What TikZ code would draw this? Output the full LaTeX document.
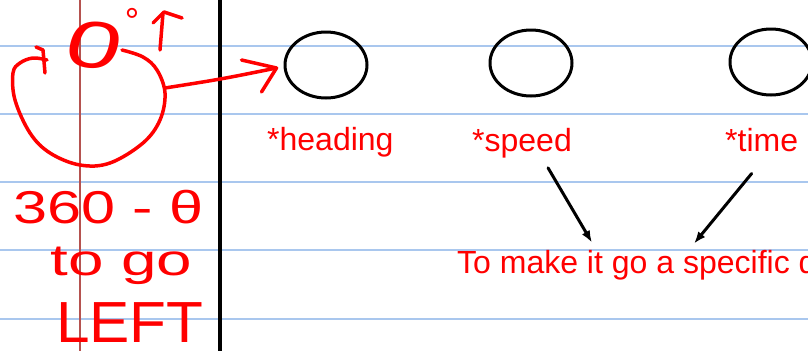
\documentclass[tikz,border=0pt]{standalone}
\usepackage{fontspec}
\setmainfont{Liberation Sans}
\usetikzlibrary{arrows.meta,calc,shapes.geometric}
\definecolor{ruled}{HTML}{A9C7EE}
\definecolor{marginred}{HTML}{B5524F}
\definecolor{ink}{HTML}{FF0000}
\tikzset{
  oval/.style={ellipse, draw=black, line width=3pt, minimum width=82pt, minimum height=66pt, inner sep=0pt},
  lab/.style={text=ink, inner sep=0pt, font=\fontsize{32}{32}\selectfont},
  hand/.style={text=ink, inner sep=0pt},
  handline/.style={draw=ink, line width=3.5pt, line cap=round, line join=round},
  blkarrow/.style={draw=black, line width=3pt, line cap=round, -{Latex[length=12pt,width=9pt]}}
}
\begin{document}
\begin{tikzpicture}[x=1pt,y=-1pt]
\useasboundingbox (0,0) rectangle (808,351);
\clip (0,0) rectangle (808,351);
\fill[white] (0,0) rectangle (808,351);
% ruled paper
\foreach \yy in {46,114,182,250,319} \draw[ruled, line width=1.5pt] (0,\yy) -- (808,\yy);
\draw[marginred, line width=1.2pt] (80,0) -- (80,351);
\draw[black, line width=3.5pt] (220,0) -- (220,351);

% ovals
\node[oval] (heading) at (326,65) {};
\node[oval] (speed) at (531,63) {};
\node[oval] (time) at (771,62) {};

% labels
\node[lab, anchor=base west] (headlab) at (267,150) {*heading};
\node[lab, anchor=base west] (speedlab) at (472,151) {*speed};
\node[lab, anchor=base west] (timelab) at (725,151) {*time};
\node[lab, anchor=base west] (goal) at (457,273) {To make it go a specific d};

% black arrows
\draw[blkarrow] ($(speedlab.south)+(26,10)$) -- ($(goal.north west)+(135,-7)$);
\draw[blkarrow] ($(timelab.south)+(-10,22)$) -- ($(goal.north west)+(237,-6)$);

% handwriting on the left
\node[hand, anchor=base, xscale=1.5, rotate=-10, transform shape, font=\fontsize{66}{66}\selectfont] (zero) at (89,68) {0};
\node[hand, font=\fontsize{36}{36}\selectfont] (deg) at (132,21) {°};
\draw[handline] (160,50) -- (163,13);
\draw[handline] (153,23) -- (164,12) -- (182,18);

\draw[handline] plot[smooth, tension=0.6] coordinates {(122,50) (143,57) (157,70) (165,93) (160,120) (143,143) (110,163) (80,165) (50,153) (30,133) (15,100) (13,73) (20,63) (33,58) (47,60)};
\draw[handline] (36,47) -- (43,50) -- (45,73);

\coordinate (loopR) at (165,88);
\draw[handline] (loopR) .. controls (222,79) .. ($(heading.west)+(-7,3)$) coordinate (tipH);
\draw[handline] ($(tipH)+(-35,-8)$) -- (tipH) -- ($(tipH)+(-15,24)$);

\node[hand, anchor=base west, xscale=1.33, transform shape, font=\fontsize{46}{46}\selectfont] (expr) at (13,223) {360 - θ};
\node[hand, anchor=base west, xscale=1.45, transform shape, font=\fontsize{44}{44}\selectfont] (togo) at (50,275) {to go};
\node[hand, anchor=base west, xscale=1.04, transform shape, font=\fontsize{58}{58}\selectfont] (left) at (56,342) {LEFT};
\end{tikzpicture}
\end{document}
